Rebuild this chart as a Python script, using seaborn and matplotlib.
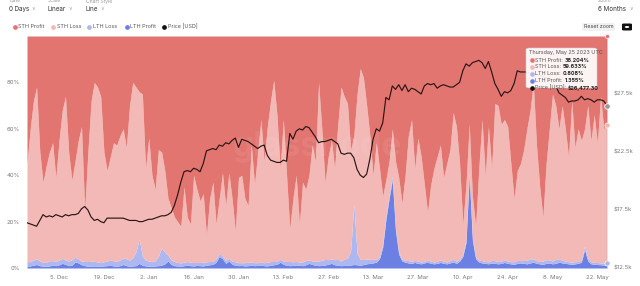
import numpy as np
import pandas as pd
import matplotlib
matplotlib.use("Agg")
import matplotlib.pyplot as plt
import seaborn as sns
from matplotlib.lines import Line2D
from matplotlib.patches import FancyBboxPatch, Circle

# ---------------- data ----------------
start_date = "2022-11-25"
end_date = "2023-05-25"

sth_profit = [
    55, 40, 28, 22, 50, 63, 56, 50, 46, 61,
    45, 32, 26, 50, 62, 54, 45, 39, 75, 50,
    28, 20, 22, 26, 50, 58, 52, 46, 47, 43,
    40, 48, 30, 20, 22, 24, 25, 57, 44, 60,
    66, 49, 50, 58, 70, 74, 78, 80, 82, 65,
    78, 81, 60, 66, 71, 68, 86, 70, 63, 81,
    70, 59, 73, 59, 70, 84, 61, 60, 70, 73,
    47, 64, 50, 36, 54, 39, 28, 19, 34, 57,
    36, 60, 83, 70, 60, 81, 63, 66, 60, 47,
    54, 20, 40, 63, 52, 45, 57, 38, 22, 26,
    29, 49, 43, 25, 14, 18, 30, 43, 60, 46,
    57, 69, 62, 54, 40, 54, 61, 72, 60, 43,
    36, 57, 44, 52, 64, 76, 64, 57, 52, 47,
    61, 55, 49, 33, 39, 55, 81, 64, 38, 69,
    82, 57, 36, 60, 39, 57, 29, 30, 38, 36,
    39, 55, 70, 58, 55, 49, 40, 32, 20, 47,
    65, 78, 55, 40, 25, 30, 40, 30, 40, 52,
    28, 48, 40, 45, 40, 30, 45, 34, 46, 26,
    40, 38.204,
]

lth_profit = [
    0.8, 0.9, 1.2, 1.5, 1.0, 0.8, 0.7, 0.9, 1.2, 1.0,
    1.4, 2.0, 1.6, 1.0, 1.2, 2.6, 2.2, 1.4, 1.0, 0.8,
    0.7, 0.9, 0.8, 0.7, 0.9, 1.0, 1.2, 0.9, 0.8, 1.0,
    1.5, 1.0, 0.8, 0.9, 1.0, 2.0, 1.2, 0.9, 0.8, 0.7,
    0.9, 1.0, 1.2, 1.8, 3.0, 1.5, 1.0, 0.9, 0.8, 1.0,
    1.2, 1.0, 0.9, 1.1, 1.0, 0.9, 1.2, 1.4, 1.6, 2.5,
    5.0, 4.0, 2.0, 3.0, 1.6, 1.2, 1.0, 1.1, 0.9, 1.0,
    1.2, 1.0, 1.1, 1.3, 1.0, 0.9, 1.2, 1.4, 1.6, 2.5,
    1.6, 1.2, 1.0, 1.1, 1.3, 1.2, 1.0, 1.4, 2.0, 1.5,
    1.2, 1.0, 1.1, 1.3, 1.6, 2.0, 1.4, 1.2, 1.0, 1.1,
    1.2, 1.3, 1.5, 1.4, 1.2, 1.5, 1.8, 2.0, 2.2, 2.5,
    4.0, 9.0, 21.0, 30.0, 38.0, 16.0, 6.0, 3.0, 2.5, 2.2,
    2.0, 2.4, 2.0, 1.8, 2.2, 2.5, 2.0, 1.8, 2.0, 2.4,
    2.0, 1.8, 2.2, 2.6, 2.0, 3.0, 5.0, 11.0, 40.0, 12.0,
    4.0, 2.5, 2.2, 2.0, 1.8, 2.2, 2.0, 1.8, 2.0, 2.4,
    2.0, 1.8, 1.6, 2.0, 2.2, 2.0, 1.8, 2.2, 2.5, 2.0,
    1.8, 1.6, 2.0, 2.2, 1.8, 2.0, 2.5, 2.2, 2.0, 1.8,
    1.6, 1.8, 2.0, 2.5, 8.0, 3.0, 1.8, 1.6, 1.5, 1.4,
    1.3, 1.355,
]

lth_loss = [
    2.0, 1.8, 2.2, 2.5, 2.0, 1.6, 1.8, 2.2, 2.0, 1.8,
    2.0, 2.2, 1.8, 2.0, 2.4, 2.0, 1.8, 1.6, 1.8, 2.0,
    2.2, 2.0, 1.8, 1.6, 1.8, 2.0, 2.4, 2.2, 2.0, 2.5,
    2.8, 3.0, 2.6, 3.5, 6.0, 10.5, 4.0, 2.5, 2.2, 2.0,
    2.2, 4.0, 7.5, 5.0, 2.5, 2.0, 1.8, 1.5, 1.4, 1.5,
    1.6, 1.4, 1.5, 1.3, 1.4, 1.6, 1.5, 1.4, 1.2, 1.5,
    1.4, 1.2, 1.3, 1.2, 1.4, 1.5, 1.3, 1.2, 1.4, 1.5,
    1.4, 1.3, 1.2, 1.4, 1.3, 1.5, 1.6, 1.4, 1.2, 1.3,
    1.4, 1.6, 1.8, 1.6, 1.5, 1.4, 1.6, 1.8, 1.6, 1.5,
    1.8, 2.0, 2.2, 2.4, 2.0, 1.8, 2.2, 2.5, 2.0, 2.8,
    3.0, 6.0, 26.0, 5.0, 2.5, 2.2, 2.0, 1.8, 1.5, 1.2,
    1.0, 1.2, 1.5, 1.5, 1.5, 1.2, 1.0, 0.8, 0.9, 1.0,
    0.8, 0.9, 1.0, 0.8, 0.7, 0.9, 1.0, 0.8, 0.9, 1.1,
    0.9, 0.8, 1.0, 1.2, 0.9, 0.8, 1.0, 1.2, 1.5, 1.0,
    0.8, 0.9, 1.0, 0.8, 0.9, 1.1, 1.2, 1.0, 0.9, 1.2,
    1.0, 0.9, 1.1, 1.3, 1.0, 1.2, 1.5, 1.8, 1.4, 1.2,
    1.0, 1.4, 1.6, 1.3, 1.2, 1.8, 1.5, 1.2, 1.0, 0.9,
    1.0, 0.9, 0.8, 1.0, 1.5, 1.2, 0.9, 0.8, 0.9, 0.8,
    0.9, 0.808,
]

# price in thousands of USD
price_k = [
    16.4, 16.3, 16.2, 16.1, 16.6, 17.1, 16.9, 17.0, 16.9, 17.1,
    17.0, 16.9, 17.1, 17.0, 17.1, 17.1, 17.2, 17.6, 17.8, 17.5,
    16.9, 16.6, 16.7, 16.5, 16.4, 16.8, 16.8, 16.8, 16.8, 16.8,
    16.8, 16.7, 16.6, 16.6, 16.6, 16.5, 16.5, 16.6, 16.7, 16.7,
    16.8, 16.9, 17.0, 17.0, 17.1, 17.3, 17.9, 18.8, 19.9, 20.8,
    20.9, 20.8, 21.1, 21.0, 20.8, 21.5, 22.6, 22.7, 22.8, 22.7,
    23.1, 23.0, 23.3, 23.2, 23.5, 23.7, 22.9, 23.6, 23.5, 23.4,
    23.2, 23.0, 22.8, 23.0, 23.1, 22.2, 21.8, 21.7, 21.6, 21.6,
    21.8, 21.7, 24.1, 23.6, 24.3, 24.5, 24.4, 24.7, 24.6, 24.2,
    23.8, 23.3, 23.4, 23.4, 23.5, 23.6, 23.4, 23.2, 22.4, 22.3,
    22.4, 22.4, 22.0, 21.0, 20.5, 20.3, 20.6, 21.9, 23.6, 24.5,
    24.3, 25.0, 27.2, 27.0, 28.2, 27.9, 28.3, 27.8, 28.3, 27.7,
    28.0, 27.9, 27.7, 27.5, 28.2, 28.4, 28.3, 28.4, 28.0, 28.2,
    28.3, 28.2, 28.1, 28.1, 28.3, 28.5, 29.5, 30.1, 29.9, 30.2,
    30.3, 30.4, 30.2, 29.7, 30.3, 29.4, 28.4, 27.9, 27.3, 27.7,
    27.6, 27.8, 28.4, 29.5, 29.4, 29.4, 29.4, 29.3, 29.2, 29.2,
    29.1, 29.0, 28.9, 28.7, 28.4, 28.2, 27.6, 27.4, 27.2, 26.8,
    26.9, 26.9, 27.0, 27.3, 27.0, 27.1, 27.0, 26.8, 27.0, 27.0,
    26.9, 26.4773,
]

x_tick_dates = ["2022-12-05", "2022-12-19", "2023-01-02", "2023-01-16", "2023-01-30",
                "2023-02-13", "2023-02-27", "2023-03-13", "2023-03-27", "2023-04-10",
                "2023-04-24", "2023-05-08", "2023-05-22"]
x_tick_labels = ["5. Dec", "19. Dec", "2. Jan", "16. Jan", "30. Jan", "13. Feb",
                 "27. Feb", "13. Mar", "27. Mar", "10. Apr", "24. Apr", "8. May", "22. May"]
pct_ticks = [0, 20, 40, 60, 80]
pct_tick_labels = ["0%", "20%", "40%", "60%", "80%"]
price_ticks = [12.5, 17.5, 22.5, 27.5]
price_tick_labels = ["$12.5k", "$17.5k", "$22.5k", "$27.5k"]

series_names = ["STH Profit", "STH Loss", "LTH Loss", "LTH Profit", "Price [USD]"]
tooltip_values = ["38.204%", "59.633%", "0.808%", "1.355%", "$26,477.30"]

# ---------------- styling ----------------
C_STH_PROFIT = "#e27570"
C_STH_LOSS = "#f3b9b6"
C_LTH_LOSS = "#aeb8f0"
C_LTH_PROFIT = "#6c80e4"
C_PRICE = "#2a1616"
GREY = "#7a7a7a"

sns.set_theme(style="white")
plt.rcParams["font.family"] = ["Inter", "DejaVu Sans"]

dates = pd.date_range(start_date, end_date, freq="D")
sp = np.array(sth_profit, float)
lp = np.array(lth_profit, float)
ll = np.array(lth_loss, float)
sl = 100.0 - sp - lp - ll  # remainder of the 100% stack

W, H = 640, 286
fig = plt.figure(figsize=(W / 100, H / 100), dpi=100)
fig.patch.set_facecolor("white")

def fx(px):
    return px / W

def fy(py):
    return 1 - py / H

ax = fig.add_axes([fx(27), fy(268), fx(607) - fx(27), fy(36) - fy(268)])
ax.stackplot(dates, lp, ll, sl, sp,
             colors=[C_LTH_PROFIT, C_LTH_LOSS, C_STH_LOSS, C_STH_PROFIT],
             linewidth=0, antialiased=True)
ax.set_xlim(dates[0], dates[-1])
ax.set_ylim(0, 100)
ax.set_yticks(pct_ticks)
ax.set_yticklabels(pct_tick_labels)
ax.set_xticks(pd.to_datetime(x_tick_dates))
ax.set_xticklabels(x_tick_labels)
ax.tick_params(axis="both", length=0, labelsize=4.3, colors=GREY)
ax.tick_params(axis="y", pad=5)
ax.tick_params(axis="x", pad=5)
for s in ax.spines.values():
    s.set_visible(False)

# watermark
ax.text(0.5, 0.52, "glassnode", transform=ax.transAxes, ha="center", va="center",
        fontsize=24, color="white", alpha=0.07, fontweight="bold")

ax2 = ax.twinx()
sns.lineplot(x=dates, y=price_k, ax=ax2, color=C_PRICE, linewidth=0.85)
ax2.set_ylim(12.5, 32.5)
ax2.set_yticks(price_ticks)
ax2.set_yticklabels(price_tick_labels)
ax2.tick_params(axis="y", length=0, labelsize=4.3, colors=GREY, pad=5)
ax2.set_xlim(dates[0], dates[-1])
ax2.set_ylabel("")
for s in ax2.spines.values():
    s.set_visible(False)

# hover crosshair and markers at last date
last = dates[-1]
ax2.axvline(last, color="#555555", lw=0.8, zorder=5)
ax.scatter([last], [100], s=9, color=C_STH_PROFIT, edgecolor="white", linewidth=0.5, zorder=6, clip_on=False)
ax.scatter([last], [100 - sp[-1]], s=14, color=C_STH_LOSS, edgecolor="white", linewidth=0.5, zorder=6, clip_on=False)
ax.scatter([last], [lp[-1] + ll[-1]], s=14, color=C_LTH_LOSS, edgecolor="white", linewidth=0.5, zorder=6, clip_on=False)
ax2.scatter([last], [price_k[-1]], s=16, color="#9a9a9a", edgecolor="white", linewidth=0.6, zorder=7, clip_on=False)

# ---------------- header controls ----------------
small = dict(fontsize=3.6, color="#9a9a9a", va="center")
ctrl = dict(fontsize=4.5, color="#333333", va="center")
fig.text(fx(9), fy(1), "Date", **small)
fig.text(fx(9), fy(9), "0 Days", **ctrl)
fig.text(fx(31), fy(9), "∨", fontsize=3.5, color="#999999", va="center")
fig.text(fx(48), fy(1), "Scale", **small)
fig.text(fx(48), fy(9), "Linear", **ctrl)
fig.text(fx(68), fy(9), "∨", fontsize=3.5, color="#999999", va="center")
fig.text(fx(86), fy(1), "Chart Style", **small)
fig.text(fx(86), fy(9), "Line", **ctrl)
fig.text(fx(100), fy(9), "∨", fontsize=3.5, color="#999999", va="center")
fig.text(fx(598), fy(1), "Zoom", **small)
fig.text(fx(598), fy(9), "6 Months", **ctrl)
fig.text(fx(629), fy(9), "∨", fontsize=3.5, color="#999999", va="center")

# legend row
legend_items = [(15, 18, C_STH_PROFIT), (53, 57, C_STH_LOSS), (89, 93, C_LTH_LOSS),
                (127, 130, C_LTH_PROFIT), (164, 168, "#111111")]
for (dx, tx, c), name in zip(legend_items, series_names):
    fig.add_artist(Line2D([fx(dx)], [fy(27)], marker="o", markersize=2.4, color=c,
                          linestyle="", transform=fig.transFigure))
    fig.text(fx(tx), fy(27), name, fontsize=3.9, color="#555555", va="center")

# reset zoom button + camera icon
fig.patches.append(FancyBboxPatch((fx(582), fy(31)), fx(33), fy(0) - fy(8),
                                  boxstyle="round,pad=0,rounding_size=0.004",
                                  transform=fig.transFigure, fc="#f2f2f2", ec="none"))
fig.text(fx(598.5), fy(27), "Reset zoom", fontsize=3.8, color="#444444", ha="center", va="center")
fig.patches.append(FancyBboxPatch((fx(622), fy(30.5)), fx(10), fy(0) - fy(7),
                                  boxstyle="round,pad=0,rounding_size=0.003",
                                  transform=fig.transFigure, fc="#111111", ec="none"))
fig.patches.append(Circle((fx(627), fy(27)), 0.0035, transform=fig.transFigure, fc="white", ec="none"))

# ---------------- tooltip ----------------
fig.patches.append(FancyBboxPatch((fx(526), fy(88)), fx(71), fy(0) - fy(40),
                                  boxstyle="round,pad=0,rounding_size=0.006",
                                  transform=fig.transFigure, fc="white", ec="#d0d0d0",
                                  lw=0.4, alpha=0.92, zorder=10))
fig.text(fx(529), fy(52.5), "Thursday, May 25 2023 UTC", fontsize=3.9, color="#555555",
         va="center", zorder=11)
tip_colors = [C_STH_PROFIT, C_STH_LOSS, C_LTH_LOSS, C_LTH_PROFIT, "#111111"]
fig.canvas.draw()
renderer = fig.canvas.get_renderer()
for i, (name, val, c) in enumerate(zip(series_names, tooltip_values, tip_colors)):
    yy = 60 + i * 6.9
    fig.add_artist(Line2D([fx(531.5)], [fy(yy)], marker="o", markersize=2.3, color=c,
                          linestyle="", transform=fig.transFigure, zorder=11))
    t = fig.text(fx(535), fy(yy), name + ":", fontsize=3.9, color="#555555", va="center", zorder=11)
    bb = t.get_window_extent(renderer=renderer)
    fig.text(fx(bb.x1 + 2), fy(yy), val, fontsize=3.9, color="#222222", fontweight="bold",
             va="center", zorder=11)

fig.savefig("out.png", dpi=100, facecolor="white")
